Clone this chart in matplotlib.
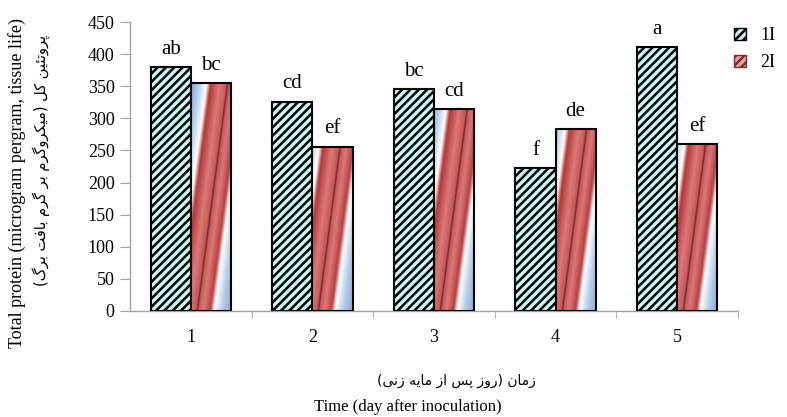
import numpy as np
import matplotlib
matplotlib.use('Agg')
import matplotlib.pyplot as plt
from matplotlib.patches import Patch

# total protein per day, two inoculation treatments
days = [1, 2, 3, 4, 5]
protein_1I = [380, 326, 346, 222, 411]
protein_2I = [355, 256, 314, 283, 260]
letters_1I = ['ab', 'cd', 'bc', 'f', 'a']
letters_2I = ['bc', 'ef', 'cd', 'de', 'ef']
series_names = ['1I', '2I']
yticks = [0, 50, 100, 150, 200, 250, 300, 350, 400, 450]

ylabel_en = 'Total protein (microgram pergram, tissue life)'
ylabel_fa = 'پروتئین کل (میکروگرم بر گرم بافت برگ)'
xlabel_en = 'Time (day after inoculation)'
xlabel_fa = 'زمان (روز پس از مایه زنی)'

# contextual forms: isolated, final, initial, medial
FORMS = {
    'ا': '\uFE8D\uFE8E', 'ر': '\uFEAD\uFEAE', 'ز': '\uFEAF\uFEB0',
    'و': '\uFEED\uFEEE',
    'ب': '\uFE8F\uFE90\uFE91\uFE92', 'پ': '\uFB56\uFB57\uFB58\uFB59',
    'ت': '\uFE95\uFE96\uFE97\uFE98', 'ئ': '\uFE89\uFE8A\uFE8B\uFE8C',
    'س': '\uFEB1\uFEB2\uFEB3\uFEB4', 'ف': '\uFED1\uFED2\uFED3\uFED4',
    'ک': '\uFB8E\uFB8F\uFB90\uFB91', 'گ': '\uFB92\uFB93\uFB94\uFB95',
    'ل': '\uFEDD\uFEDE\uFEDF\uFEE0', 'م': '\uFEE1\uFEE2\uFEE3\uFEE4',
    'ن': '\uFEE5\uFEE6\uFEE7\uFEE8', 'ه': '\uFEE9\uFEEA\uFEEB\uFEEC',
    'ی': '\uFBFC\uFBFD\uFBFE\uFBFF',
}
MIRROR = {'(': ')', ')': '('}


def shape(text):
    out = []
    for i, ch in enumerate(text):
        if ch not in FORMS:
            out.append(MIRROR.get(ch, ch))
            continue
        forms = FORMS[ch]
        prev = text[i - 1] if i > 0 else ''
        nxt = text[i + 1] if i + 1 < len(text) else ''
        jp = prev in FORMS and len(FORMS[prev]) == 4
        jn = len(forms) == 4 and nxt in FORMS
        if jp and jn:
            out.append(forms[3])
        elif jp:
            out.append(forms[1])
        elif jn:
            out.append(forms[2])
        else:
            out.append(forms[0])
    return ''.join(reversed(out))


# colour ramp across the slanted stripe of the 2I bars
stops = [(-1.0, (0.40, 0.58, 0.79)), (-0.72, (0.70, 0.80, 0.91)),
         (-0.52, (1.0, 1.0, 1.0)), (-0.42, (0.70, 0.22, 0.22)),
         (-0.20, (0.86, 0.47, 0.47)), (-0.03, (0.78, 0.34, 0.34)),
         (0.0, (0.35, 0.14, 0.14)), (0.03, (0.78, 0.34, 0.34)),
         (0.15, (0.86, 0.47, 0.47)), (0.32, (0.72, 0.25, 0.25)),
         (0.42, (1.0, 1.0, 1.0)), (0.62, (0.70, 0.80, 0.91)),
         (1.0, (0.40, 0.58, 0.79))]
su = np.array([s[0] for s in stops])
sc = np.array([s[1] for s in stops])


def stripe_image(h, nx=60, ny=300):
    xf = np.linspace(0, 1, nx)
    yy = np.linspace(0, h, ny)
    X, Y = np.meshgrid(xf, yy)
    u = np.clip(X - 0.15 - 0.75 * Y / 355.0, -1, 1)
    img = np.stack([np.interp(u, su, sc[:, k]) for k in range(3)], axis=-1)
    return img


plt.rcParams['font.family'] = ['Liberation Serif']
plt.rcParams['hatch.linewidth'] = 1.8

fig = plt.figure(figsize=(7.87, 4.17), dpi=100)
ax = fig.add_axes([0.1652, 0.2542, 0.7725, 0.693])

w = 0.33
x = np.array(days, dtype=float)
ax.bar(x - w / 2, protein_1I, width=w, color='#c8f8f4', edgecolor='black',
       hatch='////', linewidth=1.5, zorder=3)
bars2 = ax.bar(x + w / 2, protein_2I, width=w, color='none',
               edgecolor='black', linewidth=1.5, zorder=4)
for b, h in zip(bars2, protein_2I):
    x0 = b.get_x()
    im = ax.imshow(stripe_image(h), origin='lower', aspect='auto',
                   extent=[x0, x0 + w, 0, h], zorder=3, interpolation='bilinear')
    im.set_clip_path(b)

for xi, v, t in zip(x - w / 2, protein_1I, letters_1I):
    ax.annotate(t, (xi, v), xytext=(0, 9.5), textcoords='offset points',
                ha='center', va='baseline', fontsize=15)
for xi, v, t in zip(x + w / 2, protein_2I, letters_2I):
    ax.annotate(t, (xi, v), xytext=(0, 9.5), textcoords='offset points',
                ha='center', va='baseline', fontsize=15)

ax.set_xlim(0.5, 5.5)
ax.set_ylim(0, 450)
ax.set_yticks(yticks)
ax.set_xticks(days)
ax.set_xticks(np.arange(1.5, 5.6, 1), minor=True)
ax.tick_params(axis='y', length=7, color='#a0a0a0', labelsize=13, pad=4)
ax.tick_params(axis='x', which='major', length=0, labelsize=13, pad=13)
ax.tick_params(axis='x', which='minor', length=5, color='#a0a0a0')
for s in ['top', 'right']:
    ax.spines[s].set_visible(False)
for s in ['left', 'bottom']:
    ax.spines[s].set_color('#a0a0a0')
    ax.spines[s].set_linewidth(1.0)

handles = [Patch(facecolor='#c8f8f4', edgecolor='black', hatch='////'),
           Patch(facecolor='#e2a3a3', edgecolor='#7a3030', hatch='////')]
fig.legend(handles, series_names, loc='upper left',
           bbox_to_anchor=(734 / 787, 1 - 27 / 417), frameon=False,
           fontsize=13, handlelength=0.65, handleheight=0.65,
           handletextpad=0.8, labelspacing=0.55, borderpad=0,
           borderaxespad=0)

fig.text(17 / 787, 1 - 183 / 417, ylabel_en, rotation=90, ha='center',
         va='center', fontsize=13)
fig.text(41 / 787, 1 - 160 / 417, shape(ylabel_fa), rotation=90,
         ha='center', va='center', fontsize=10.5, family=['DejaVu Sans'])
fig.text(456 / 787, 1 - 381 / 417, shape(xlabel_fa), ha='center',
         va='center', fontsize=10, family=['DejaVu Sans'])
fig.text(408 / 787, 1 - 407 / 417, xlabel_en, ha='center', va='center',
         fontsize=12)

fig.savefig('out.png', dpi=100)
